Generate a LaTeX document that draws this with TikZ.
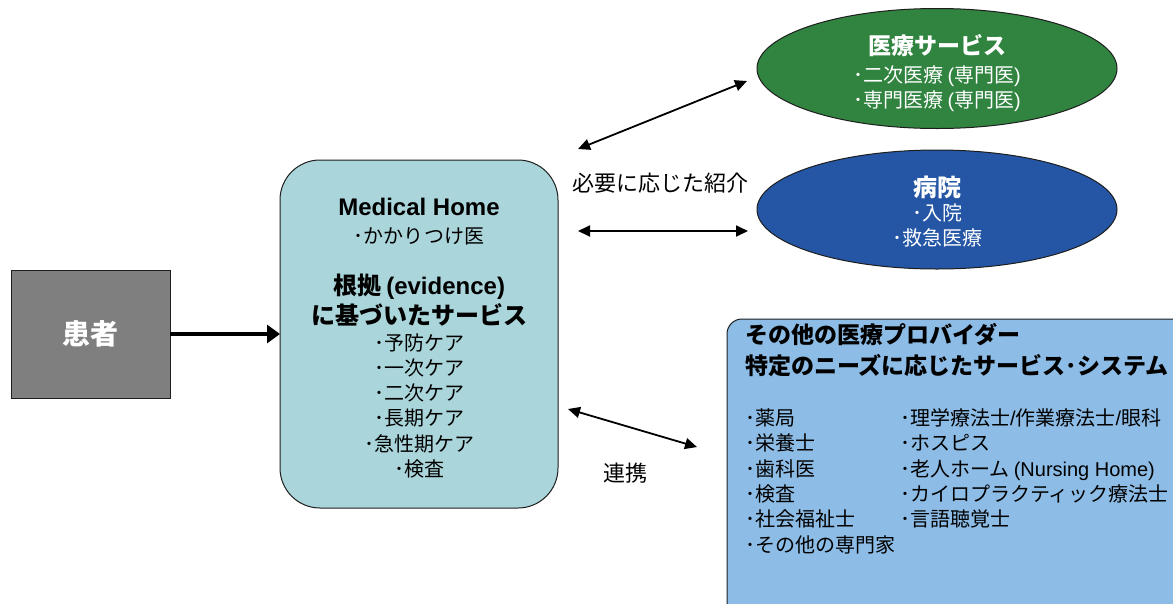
\documentclass[tikz,border=0pt]{standalone}
\usepackage{fontspec}
\setmainfont{Noto Sans CJK JP}
\newfontfamily\ar{Liberation Sans}
\usetikzlibrary{arrows.meta,shapes.geometric}
\definecolor{pgray}{RGB}{127,127,127}
\definecolor{mhfill}{RGB}{170,213,218}
\definecolor{gfill}{RGB}{49,132,64}
\definecolor{bfill}{RGB}{36,86,165}
\definecolor{opfill}{RGB}{141,189,230}
\definecolor{edge}{RGB}{30,30,30}
\newcommand{\lp}{\hspace{0.22em}{\ar (}}
\newcommand{\rp}{{\ar )}\hspace{0.22em}}
\begin{document}
\begin{tikzpicture}[x=1pt,y=-1pt,
  txt/.style={inner sep=0pt, outer sep=0pt, anchor=base},
  txtl/.style={inner sep=0pt, outer sep=0pt, anchor=base west},
  f20/.style={font=\fontsize{20}{24}\selectfont},
  b24/.style={font=\fontsize{24}{28}\selectfont\bfseries},
  b23/.style={font=\fontsize{23}{27}\selectfont\bfseries},
  lab/.style={font=\fontsize{22}{26}\selectfont},
  shp/.style={draw=edge, line width=1pt, inner sep=0pt, outer sep=0pt},
  link/.style={line width=1.8pt, {Triangle[length=12pt,width=11pt]}-{Triangle[length=12pt,width=11pt]}},
  feed/.style={line width=4pt, -{Triangle[length=13pt,width=18pt]}}
]
\useasboundingbox (0,0) rectangle (1173,603);
\clip (0,0) rectangle (1173,603);

% shapes
\node[shp, fill=pgray, minimum width=159pt, minimum height=128pt,
      text=white, font=\fontsize{28}{32}\selectfont\bfseries] (pt) at (90.5,334) {患者};
\node[shp, fill=mhfill, rounded corners=40pt, minimum width=278pt, minimum height=348pt] (mh) at (419,334) {};
\node[shp, ellipse, fill=gfill, minimum width=360pt, minimum height=120pt] (svc) at (937,68.5) {};
\node[shp, ellipse, fill=bfill, minimum width=360pt, minimum height=119pt] (hosp) at (937,209.5) {};
\node[shp, fill=opfill, rounded corners=15pt, minimum width=480pt, minimum height=320pt, anchor=north west] (op) at (727,319) {};

% Medical Home text
\node[txt, b24] (mh1) at (419,215) {\ar Medical Home};
\node[txt, f20] (mh2) at (419,243.6) {･かかりつけ医};
\node[txt, b24] (mh3) at (419,294) {根拠\lp{\ar evidence}\rp};
\node[txt, b24] (mh4) at (419,324) {に基づいたサービス};
\node[txt, f20] (mh5) at (419,350.2) {･予防ケア};
\node[txt, f20] (mh6) at (419,375.4) {･一次ケア};
\node[txt, f20] (mh7) at (419,400.6) {･二次ケア};
\node[txt, f20] (mh8) at (419,425.8) {･長期ケア};
\node[txt, f20] (mh9) at (419,451) {･急性期ケア};
\node[txt, f20] (mh10) at (419,476.2) {･検査};

% ellipse texts
\node[txt, b23, text=white] (s1) at (937,54.7) {医療サービス};
\node[txt, f20, text=white] (s2) at (937,82.6) {･二次医療\lp 専門医\rp};
\node[txt, f20, text=white] (s3) at (937,107.6) {･専門医療\lp 専門医\rp};
\node[txt, b24, text=white] (h1) at (937,196) {病院};
\node[txt, f20, text=white] (h2) at (937,220.6) {･入院};
\node[txt, f20, text=white] (h3) at (937,245.6) {･救急医療};

% other providers
\node[txtl, b23] (o1) at (745,343.7) {その他の医療プロバイダー};
\node[txtl, b23] (o2) at (745,374.7) {特定のニーズに応じたサービス･システム};
\node[txtl, f20] (oa) at (745,425.6) {･薬局};
\node[txtl, f20] (ob) at (745,450.9) {･栄養士};
\node[txtl, f20] (oc) at (745,476.2) {･歯科医};
\node[txtl, f20] (od) at (745,501.5) {･検査};
\node[txtl, f20] (oe) at (745,526.8) {･社会福祉士};
\node[txtl, f20] (of) at (745,552.1) {･その他の専門家};
\node[txtl, f20] (og) at (900,425.6) {･理学療法士{\ar /}作業療法士{\ar /}眼科};
\node[txtl, f20] (oh) at (900,450.9) {･ホスピス};
\node[txtl, f20] (oi) at (900,476.2) {･老人ホーム\lp{\ar Nursing Home}\rp};
\node[txtl, f20] (oj) at (900,501.5) {･カイロプラクティック療法士};
\node[txtl, f20] (ok) at (900,526.8) {･言語聴覚士};

% labels
\node[txt, lab] (l1) at (660.5,191.4) {必要に応じた紹介};
\node[txt, lab] (l2) at (625.5,481.4) {連携};

% connectors
\coordinate (r1a) at (578,149);
\coordinate (r1b) at (747,81);
\coordinate (r2a) at (578,231);
\coordinate (r2b) at (748,231);
\coordinate (r3a) at (568,409);
\coordinate (r3b) at (697,447);
\draw[feed] (pt.east) -- (mh.west);
\draw[link] (r1a) -- (r1b);
\draw[link] (r2a) -- (r2b);
\draw[link] (r3a) -- (r3b);
\end{tikzpicture}
\end{document}
